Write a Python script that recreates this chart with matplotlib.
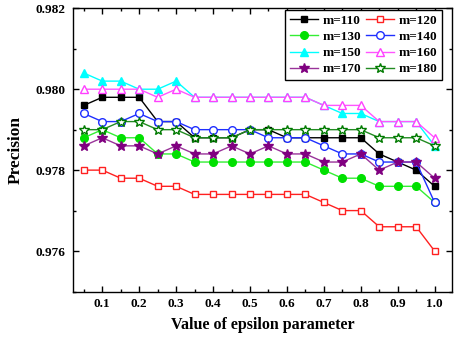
import matplotlib
matplotlib.use("Agg")
import matplotlib.pyplot as plt
from matplotlib.ticker import MultipleLocator

plt.rcParams['font.family'] = ['Liberation Serif', 'DejaVu Serif']
plt.rcParams['font.weight'] = 'bold'

epsilon = [0.05, 0.10, 0.15, 0.20, 0.25, 0.30, 0.35, 0.40, 0.45, 0.50,
           0.55, 0.60, 0.65, 0.70, 0.75, 0.80, 0.85, 0.90, 0.95, 1.00]

m110 = [0.9796, 0.9798, 0.9798, 0.9798, 0.9792, 0.9792, 0.9788, 0.9788, 0.9788, 0.9790,
        0.9790, 0.9788, 0.9788, 0.9788, 0.9788, 0.9788, 0.9784, 0.9782, 0.9780, 0.9776]
m120 = [0.9780, 0.9780, 0.9778, 0.9778, 0.9776, 0.9776, 0.9774, 0.9774, 0.9774, 0.9774,
        0.9774, 0.9774, 0.9774, 0.9772, 0.9770, 0.9770, 0.9766, 0.9766, 0.9766, 0.9760]
m130 = [0.9788, 0.9790, 0.9788, 0.9788, 0.9784, 0.9784, 0.9782, 0.9782, 0.9782, 0.9782,
        0.9782, 0.9782, 0.9782, 0.9780, 0.9778, 0.9778, 0.9776, 0.9776, 0.9776, 0.9772]
m140 = [0.9794, 0.9792, 0.9792, 0.9794, 0.9792, 0.9792, 0.9790, 0.9790, 0.9790, 0.9790,
        0.9788, 0.9788, 0.9788, 0.9786, 0.9784, 0.9784, 0.9782, 0.9782, 0.9782, 0.9772]
m150 = [0.9804, 0.9802, 0.9802, 0.9800, 0.9800, 0.9802, 0.9798, 0.9798, 0.9798, 0.9798,
        0.9798, 0.9798, 0.9798, 0.9796, 0.9794, 0.9794, 0.9792, 0.9792, 0.9792, 0.9786]
m160 = [0.9800, 0.9800, 0.9800, 0.9800, 0.9798, 0.9800, 0.9798, 0.9798, 0.9798, 0.9798,
        0.9798, 0.9798, 0.9798, 0.9796, 0.9796, 0.9796, 0.9792, 0.9792, 0.9792, 0.9788]
m170 = [0.9786, 0.9788, 0.9786, 0.9786, 0.9784, 0.9786, 0.9784, 0.9784, 0.9786, 0.9784,
        0.9786, 0.9784, 0.9784, 0.9782, 0.9782, 0.9784, 0.9780, 0.9782, 0.9782, 0.9778]
m180 = [0.9790, 0.9790, 0.9792, 0.9792, 0.9790, 0.9790, 0.9788, 0.9788, 0.9788, 0.9790,
        0.9790, 0.9790, 0.9790, 0.9790, 0.9790, 0.9790, 0.9788, 0.9788, 0.9788, 0.9786]

labels = ['m=110', 'm=120', 'm=130', 'm=140', 'm=150', 'm=160', 'm=170', 'm=180']
series = [m110, m120, m130, m140, m150, m160, m170, m180]
colors = ['black', '#ff2020', '#00e000', '#1f2fff', '#00ffff', '#ff40ff', '#800080', '#007a00']
line_colors = ['black', '#ff2020', '#33ee33', '#1f2fff', '#00ffff', '#ff55ff', '#993399', '#228b22']
markers = ['s', 's', 'o', 'o', '^', '^', '*', '*']
filled = [True, False, True, False, True, False, True, False]
msizes = [5, 5, 5.5, 5.5, 6, 6, 7.5, 7.5]

fig = plt.figure(figsize=(4.55, 3.37), dpi=100)
ax = fig.add_axes([0.1598, 0.135, 0.9934 - 0.1598, 0.9754 - 0.135])

handles = []
for lab, ys, c, lc, mk, f, ms in zip(labels, series, colors, line_colors, markers, filled, msizes):
    h, = ax.plot(epsilon, ys, color=lc, marker=mk, markersize=ms, linewidth=1.0,
                 markerfacecolor=c if f else 'white', markeredgecolor=c,
                 markeredgewidth=1.0, label=lab)
    handles.append(h)

ax.set_xlim(0.02, 1.047)
ax.set_ylim(0.975, 0.982)
ax.xaxis.set_major_locator(MultipleLocator(0.1))
ax.xaxis.set_minor_locator(MultipleLocator(0.05))
ax.yaxis.set_major_locator(MultipleLocator(0.002))
ax.yaxis.set_minor_locator(MultipleLocator(0.001))
ax.xaxis.set_major_formatter(plt.FormatStrFormatter('%.1f'))
ax.yaxis.set_major_formatter(plt.FormatStrFormatter('%.3f'))
ax.tick_params(which='both', direction='in', top=True, right=True, width=1.0)
ax.tick_params(which='major', length=4, labelsize=9.5, pad=5)
ax.tick_params(which='minor', length=2)
for lbl in ax.get_xticklabels() + ax.get_yticklabels():
    lbl.set_fontweight('bold')
for s in ax.spines.values():
    s.set_linewidth(1.0)

ax.set_xlabel('Value of epsilon parameter', fontsize=11.5, fontweight='bold', labelpad=5)
ax.set_ylabel('Precision', fontsize=12.5, fontweight='bold', labelpad=9)

order = [0, 2, 4, 6, 1, 3, 5, 7]
leg = ax.legend([handles[i] for i in order], [labels[i] for i in order], ncol=2,
                loc='upper right', bbox_to_anchor=(0.9736, 0.994), borderaxespad=0,
                prop={'weight': 'bold', 'size': 9.5}, fancybox=False, framealpha=1,
                edgecolor='black', handlelength=2.1, columnspacing=0.4, handletextpad=0.35,
                labelspacing=0.3, borderpad=0.35)
leg.get_frame().set_linewidth(1.0)

fig.savefig('out.png', dpi=100)
